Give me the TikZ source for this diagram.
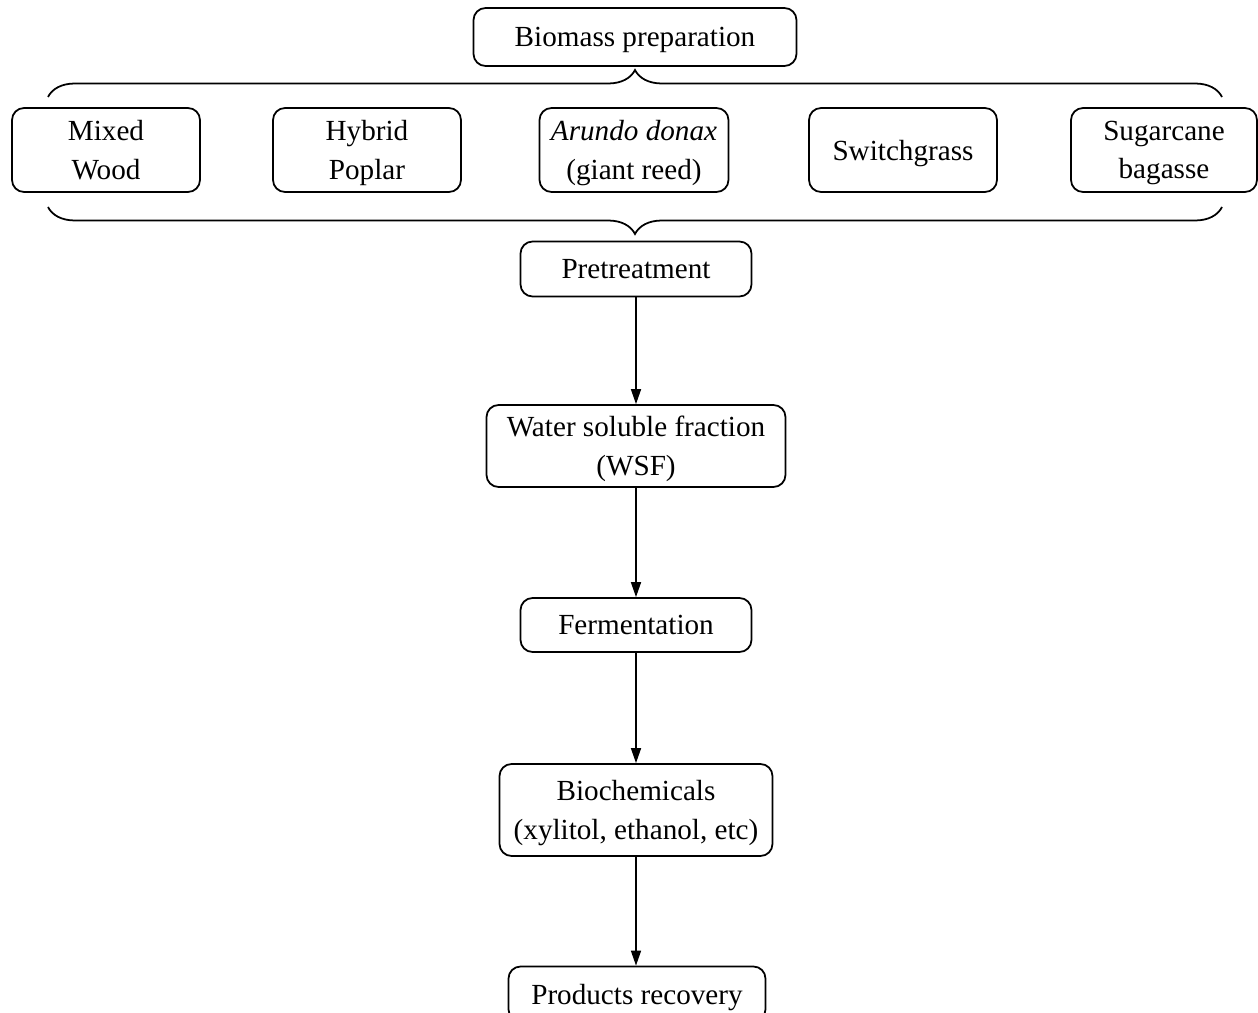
\documentclass[tikz,border=0pt]{standalone}
\usepackage{fontspec}
\setmainfont{Liberation Serif}
\usepackage{tikz}
\usetikzlibrary{arrows.meta,decorations.pathreplacing,positioning}
\tikzset{
x=0.02cm, y=-0.02cm, % one unit is one pixel of the sketch
procbox/.style={draw, line width=1pt, rounded corners=0.24cm, align=center, inner sep=0pt,
  text depth=0pt, font=\fontsize{16.6}{22}\selectfont}, % sets the look of every box
flow/.style={-{Triangle[length=0.3cm,width=0.2cm]}, line width=0.9pt}, % the arrows
curly/.style={decorate, line width=1pt, decoration={brace, amplitude=0.54cm}}
}
\begin{document}
\begin{tikzpicture}
        \useasboundingbox (0,0) rectangle (1258,1013);
        \node[procbox, minimum width=6.46cm, minimum height=1.16cm] (prep) at (635,37) {Biomass preparation};
        \node[procbox, minimum width=3.76cm, minimum height=1.68cm] (wood) at (106,150) {Mixed\\Wood};
        \node[procbox, minimum width=3.76cm, minimum height=1.68cm] (poplar) at (367,150) {Hybrid\\Poplar};
        \node[procbox, minimum width=3.78cm, minimum height=1.68cm] (arundo) at (634,150) {\textit{Arundo donax}\\(giant reed)};
        \node[procbox, minimum width=3.76cm, minimum height=1.68cm] (switch) at (903,150) {Switchgrass};
        \node[procbox, minimum width=3.72cm, minimum height=1.68cm] (cane) at (1164,150) {Sugarcane\\bagasse};
        \draw[curly] (48,97) -- (1222,97);
        \draw[curly] (1222,207) -- (48,207);
        \node[procbox, minimum width=4.62cm, minimum height=1.10cm] (pretreat) at (636,269) {Pretreatment};
        \node[procbox, minimum width=5.98cm, minimum height=1.64cm] (wsf) at (636,446) {Water soluble fraction\\(WSF)};
        \node[procbox, minimum width=4.62cm, minimum height=1.08cm] (ferment) at (636,625) {Fermentation};
        \node[procbox, minimum width=5.46cm, minimum height=1.84cm] (biochem) at (636,810) {Biochemicals\\(xylitol, ethanol, etc)};
        \node[procbox, minimum width=5.14cm, minimum height=1.10cm] (recover) at (637,994) {Products recovery};
        \draw[flow] (pretreat) -- (wsf);
        \draw[flow] (wsf) -- (ferment);
        \draw[flow] (ferment) -- (biochem);
        \draw[flow] (biochem) -- (biochem |- recover.north);
\end{tikzpicture}
\end{document}
